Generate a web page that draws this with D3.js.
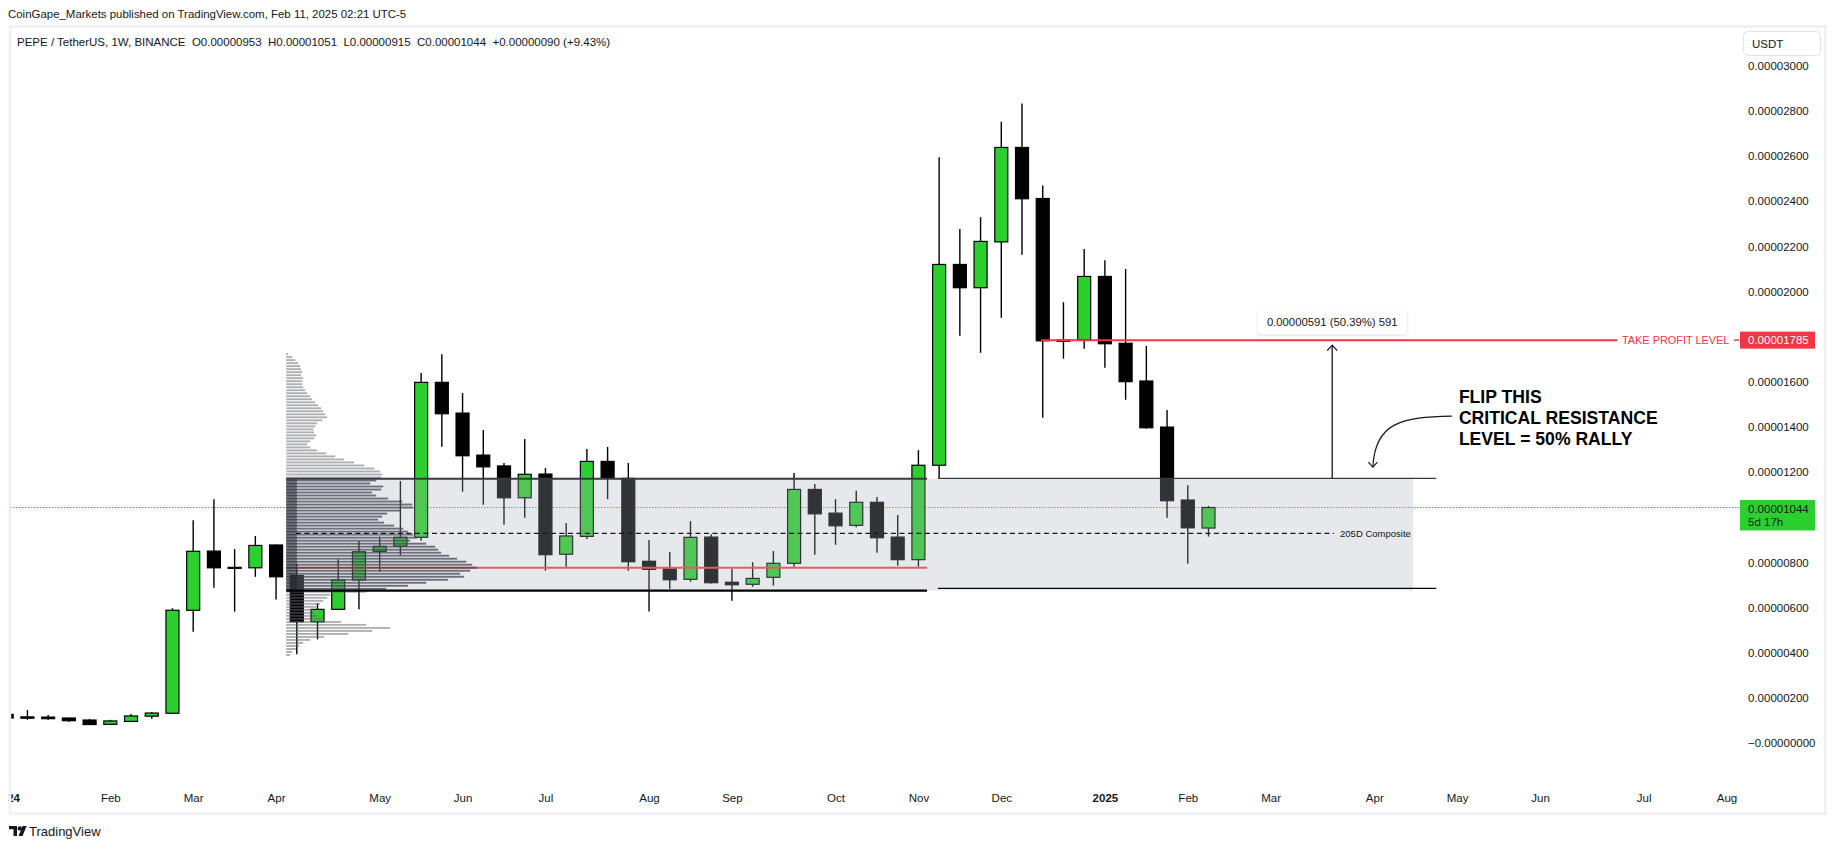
<!DOCTYPE html>
<html><head><meta charset="utf-8">
<script src="https://cdn.jsdelivr.net/npm/d3@7"></script>
<style>
html,body{margin:0;padding:0;background:#fff;}
svg{display:block;font-family:"Liberation Sans",Arial,sans-serif;}
</style></head><body>
<svg id="c" width="1835" height="849"></svg>
<script>
// ---------- DATA (prices in units of 1e-8 USDT) ----------
const weekStarts = ["2024-01-01","2024-01-08","2024-01-15","2024-01-22","2024-01-29","2024-02-05","2024-02-12","2024-02-19","2024-02-26",
"2024-03-04","2024-03-11","2024-03-18","2024-03-25","2024-04-01","2024-04-08","2024-04-15","2024-04-22","2024-04-29",
"2024-05-06","2024-05-13","2024-05-20","2024-05-27","2024-06-03","2024-06-10","2024-06-17","2024-06-24",
"2024-07-01","2024-07-08","2024-07-15","2024-07-22","2024-07-29","2024-08-05","2024-08-12","2024-08-19","2024-08-26",
"2024-09-02","2024-09-09","2024-09-16","2024-09-23","2024-09-30","2024-10-07","2024-10-14","2024-10-21","2024-10-28",
"2024-11-04","2024-11-11","2024-11-18","2024-11-25","2024-12-02","2024-12-09","2024-12-16","2024-12-23","2024-12-30",
"2025-01-06","2025-01-13","2025-01-20","2025-01-27","2025-02-03","2025-02-10"];
const opens  = [128,117,116,112,103, 84, 97,120,133, 589,851,779,777,878,743,538,593,723, 850,873,912,1598,1462,1276,1228,1087,
 1192,837,916,1248,1173,806,772,726,913, 713,704,735,797,1124,1019,965,1067,913, 813,1231,2120,2017,2220,2638,2412,1785,1787,
 2067,1771,1604,1400,1077,953];
const highs  = [132,147,125,113,108,104,130,139,598, 988,1081,860,918,880,795,620,815,896, 915,1161,1639,1723,1551,1387,1241,1347,
 1219,975,1303,1312,1241,900,847,984,926, 773,802,851,1197,1148,1081,1118,1090,1011, 1298,2595,2277,2330,2752,2833,2470,1953,2188,
 2139,2100,1759,1476,1143,1051];
const lows   = [104,104,104, 94, 82, 82, 96,109,130, 494,689,583,737,637,394,460,590,593, 760,834,897,1313,1114,1056,968,999,
 764,782,905,1081,764,583,684,715,707, 631,693,698,782,835,879,956,844,786, 782,1173,1804,1729,1884,2163,1441,1703,1747,
 1663,1521,1393,999,795,915];
const closes = [112,111,109,100, 83, 99,121,134,589, 850,777,777,876,737,538,593,723,848, 872,912,1598,1459,1273,1224,1087,1191,
 835,918,1248,1173,804,770,724,912,711, 702,730,797,1124,1016,963,1067,910,813, 1231,2120,2017,2222,2638,2411,1782,1780,2067,
 1769,1601,1397,1074,954,1044];

const priceTicks = [0,200,400,600,800,1000,1200,1400,1600,1800,2000,2200,2400,2600,2800,3000];
const monthTickDates  = ["2024-01-01","2024-02-05","2024-03-04","2024-04-01","2024-05-06","2024-06-03","2024-07-01","2024-08-05",
 "2024-09-02","2024-10-07","2024-11-04","2024-12-02","2025-01-06","2025-02-03","2025-03-03","2025-04-07","2025-05-05",
 "2025-06-02","2025-07-07","2025-08-04"];
const monthTickLabels = ["2024","Feb","Mar","Apr","May","Jun","Jul","Aug","Sep","Oct","Nov","Dec","2025","Feb","Mar","Apr","May","Jun","Jul","Aug"];

// volume profile (rows from top price to bottom price, arbitrary volume units)
const profileTop = 1723, profileBottom = 391;
const profileVolumes = [2,6,9,12,14,15,16,15,17,16,16,17,19,21,24,26,29,32,35,37,39,41,36,31,29,27,28,30,28,24,
 21,24,31,40,49,58,68,78,88,94,96,95,90,84,97,95,86,90,102,116,126,127,114,101,96,92,98,108,117,122,
 127,131,124,140,149,152,155,163,171,180,186,191,184,174,178,162,140,122,100,80,44,41,37,34,30,27,28,31,38,55,
 80,104,86,62,38,24,17,13,10,6,4];
const valueAreaHigh = 1171, valueAreaLow = 676, pocPrice = 777, compositeMid = 929;
const lastPrice = 1044, takeProfit = 1785, measuredMove = "0.00000591 (50.39%) 591";

// ---------- SCALES ----------
const svg = d3.select("#c");
const W = 1835, H = 849;
const parse = d => new Date(d + (d.length === 10 ? "T00:00:00Z" : "Z"));
const x = d3.scaleUtc().domain([parse("2024-01-01"), parse("2025-02-10")]).range([6.7, 1208.5]);
const y = d3.scaleLinear().domain([0, 3000]).range([743.3, 65.7]);
const plot = {l: 10, r: 1739, t: 27, b: 786};
const GREEN = "#2bd02f", INK = "#131722", RED = "#f23645";

const defs = svg.append("defs");
defs.append("clipPath").attr("id","plotclip").append("rect")
  .attr("x",plot.l).attr("y",plot.t).attr("width",plot.r-plot.l).attr("height",plot.b-plot.t);
const sh = defs.append("filter").attr("id","shadow").attr("x","-20%").attr("y","-40%").attr("width","140%").attr("height","180%");
sh.append("feDropShadow").attr("dx",0).attr("dy",1).attr("stdDeviation",1.5).attr("flood-color","#000").attr("flood-opacity",0.18);

svg.append("rect").attr("width",W).attr("height",H).attr("fill","#fff");

// header
svg.append("text").attr("x",8).attr("y",18).attr("font-size",11.45).attr("fill",INK)
  .text("CoinGape_Markets published on TradingView.com, Feb 11, 2025 02:21 UTC-5");
svg.append("text").attr("x",17).attr("y",46).attr("font-size",11.5).attr("fill",INK).attr("xml:space","preserve")
  .text("PEPE / TetherUS, 1W, BINANCE  O0.00000953  H0.00001051  L0.00000915  C0.00001044  +0.00000090 (+9.43%)");

const g = svg.append("g").attr("clip-path","url(#plotclip)");

// last price dotted line
const lpY = Math.floor(y(lastPrice)) + 0.5;
g.append("line").attr("x1",plot.l).attr("x2",plot.r).attr("y1",lpY).attr("y2",lpY)
  .attr("stroke","#22cc2e").attr("stroke-width",1.2).attr("stroke-dasharray","1.5,1.5");

// candles
const candles = weekStarts.map((d,i)=>({date:parse(d),o:opens[i],h:highs[i],l:lows[i],c:closes[i]}));
const bw = 14;
const cg = g.append("g");
cg.selectAll("line.wick").data(candles).join("line").attr("class","wick")
  .attr("x1",d=>x(d.date)).attr("x2",d=>x(d.date)).attr("y1",d=>y(d.h)).attr("y2",d=>y(d.l))
  .attr("stroke","#000").attr("stroke-width",1.4);
cg.selectAll("rect.body").data(candles).join("rect").attr("class","body")
  .attr("x",d=>x(d.date)-bw/2+0.5).attr("width",bw-1)
  .attr("y",d=>Math.min(y(d.o),y(d.c)))
  .attr("height",d=>Math.max(1,Math.abs(y(d.o)-y(d.c))))
  .attr("fill",d=>d.c>=d.o?GREEN:"#000").attr("stroke","#000").attr("stroke-width",1.2);

// range box (semi-transparent over candles)
const boxStart = parse("2024-04-04T10:00:00"), boxEnd = parse("2025-04-20T02:00:00");
g.append("rect").attr("x",x(boxStart)).attr("width",x(boxEnd)-x(boxStart))
  .attr("y",y(valueAreaHigh)).attr("height",y(valueAreaLow)-y(valueAreaHigh))
  .attr("fill","rgb(173,176,187)").attr("fill-opacity",0.29);

// POC red line
const leftEnd = parse("2024-11-06T22:00:00");
g.append("line").attr("x1",x(boxStart)).attr("x2",x(leftEnd)).attr("y1",y(pocPrice)).attr("y2",y(pocPrice))
  .attr("stroke","#df5f5a").attr("stroke-width",2);

// volume profile
const nRows = profileVolumes.length;
const rowStep = (profileTop-profileBottom)/(nRows-1);
const wScale = d3.scaleLinear().domain([0, d3.max(profileVolumes)]).range([0, 191]);
const prof = profileVolumes.map((v,i)=>({p: profileTop - i*rowStep, v}));
const inVA = d => d.p<=valueAreaHigh && d.p>=valueAreaLow;
g.append("g").selectAll("rect").data(prof).join("rect")
  .attr("x",x(boxStart)).attr("y",d=>y(d.p)-0.95).attr("height",1.9)
  .attr("width",d=>wScale(d.v))
  .attr("fill",d=>inVA(d)?"rgb(62,65,78)":"rgb(100,102,110)")
  .attr("fill-opacity",d=>inVA(d)?0.72:0.52);
g.append("rect").attr("x",x(boxStart)).attr("width",10.7)
  .attr("y",y(valueAreaHigh)).attr("height",y(valueAreaLow)-y(valueAreaHigh))
  .attr("fill","rgb(30,33,44)").attr("fill-opacity",0.5);

// composite mid dashed line
const dashStart = parse("2024-04-07T17:00:00"), dashEnd = parse("2025-03-24T10:00:00");
g.append("line").attr("x1",x(dashStart)).attr("x2",x(dashEnd)).attr("y1",y(compositeMid)).attr("y2",y(compositeMid))
  .attr("stroke",INK).attr("stroke-width",1.3).attr("stroke-dasharray","5,3.5");
g.append("text").attr("x",x(dashEnd)+6).attr("y",y(compositeMid)).attr("dy","0.35em")
  .attr("font-size",9.5).attr("fill",INK).text("205D Composite");

// range lines, left set
g.append("line").attr("x1",x(boxStart)).attr("x2",x(leftEnd)).attr("y1",y(valueAreaHigh)).attr("y2",y(valueAreaHigh))
  .attr("stroke","#363a45").attr("stroke-width",2);
g.append("line").attr("x1",x(boxStart)).attr("x2",x(leftEnd)).attr("y1",y(valueAreaLow)).attr("y2",y(valueAreaLow))
  .attr("stroke","#000").attr("stroke-width",2.2);
// range lines, right set
const rightStart = parse("2024-11-10T14:00:00"), rightEnd = parse("2025-04-27T22:00:00");
const rightTop = 1173, rightBottom = 686;
g.append("line").attr("x1",x(rightStart)).attr("x2",x(rightEnd)).attr("y1",y(rightTop)).attr("y2",y(rightTop))
  .attr("stroke","#363a45").attr("stroke-width",1.3);
g.append("line").attr("x1",x(rightStart)).attr("x2",x(rightEnd)).attr("y1",y(rightBottom)).attr("y2",y(rightBottom))
  .attr("stroke","#000").attr("stroke-width",1.3);

// take profit line
const tpStart = parse("2024-12-15T10:00:00"), tpEnd = parse("2025-06-28T00:00:00");
g.append("line").attr("x1",x(tpStart)).attr("x2",x(tpEnd)).attr("y1",y(takeProfit)).attr("y2",y(takeProfit))
  .attr("stroke",RED).attr("stroke-width",2);
g.append("text").attr("x",x(tpEnd)+5).attr("y",y(takeProfit)).attr("dy","0.36em").attr("font-size",10.9)
  .attr("fill",RED).text("TAKE PROFIT LEVEL");
g.append("line").attr("x1",1734).attr("x2",plot.r+2).attr("y1",y(takeProfit)).attr("y2",y(takeProfit))
  .attr("stroke",RED).attr("stroke-width",1.5);

// measure arrow
const mDate = parse("2025-03-23T19:00:00");
const mx = x(mDate), tipY = y(takeProfit)+5;
g.append("line").attr("x1",mx).attr("x2",mx).attr("y1",y(rightTop)).attr("y2",tipY)
  .attr("stroke",INK).attr("stroke-width",1.3);
g.append("path").attr("d",`M${mx-5},${tipY+5.5}L${mx},${tipY}L${mx+5},${tipY+5.5}`)
  .attr("fill","none").attr("stroke",INK).attr("stroke-width",1.3);
const lb = g.append("g").attr("transform",`translate(${mx},${y(takeProfit)-18})`);
lb.append("rect").attr("x",-74.5).attr("y",-12).attr("width",149).attr("height",24).attr("rx",4)
  .attr("fill","#fff").attr("filter","url(#shadow)");
lb.append("text").attr("text-anchor","middle").attr("dy","0.35em").attr("font-size",11.3).attr("fill",INK).text(measuredMove);

// callout text + curved arrow
const tDate = parse("2025-05-05T14:00:00"), tPrice = 1506;
const tx = x(tDate), ty = y(tPrice);
const callout = ["FLIP THIS","CRITICAL RESISTANCE","LEVEL = 50% RALLY"];
g.append("g").selectAll("text").data(callout).join("text")
  .attr("x",tx).attr("y",(d,i)=>ty+i*20.7).attr("font-size",17.6).attr("font-weight","bold")
  .attr("fill","#000").text(d=>d);
const ax0 = tx-7, ay0 = ty+13, ax1 = tx-86, ay1 = ty+64;
g.append("path").attr("d",`M${ax0},${ay0}C${ax0-50},${ay0+1} ${ax1+2},${ay0+6} ${ax1},${ay1}`)
  .attr("fill","none").attr("stroke",INK).attr("stroke-width",1.2);
g.append("path").attr("d",`M${ax1-4.5},${ay1-5}L${ax1},${ay1}L${ax1+4.5},${ay1-5}`)
  .attr("fill","none").attr("stroke",INK).attr("stroke-width",1.2);

// ---------- price axis ----------
const fmt = v => v===0 ? "\u22120.00000000" : (v*1e-8).toFixed(8);
const hiddenTicks = [1000, 1800];
const yAxis = d3.axisRight(y).tickValues(priceTicks.filter(t=>!hiddenTicks.includes(t))).tickSize(0).tickPadding(0).tickFormat(fmt);
const ya = svg.append("g").attr("transform","translate(1748,0)").call(yAxis);
ya.select(".domain").remove();
ya.selectAll("text").attr("font-size",11.5).attr("fill",INK).attr("font-family","Liberation Sans, Arial, sans-serif");

// price labels
svg.append("rect").attr("x",1740).attr("y",y(takeProfit)-8.5).attr("width",75).attr("height",17).attr("fill",RED);
svg.append("text").attr("x",1748).attr("y",y(takeProfit)).attr("dy","0.36em").attr("font-size",11.5).attr("fill","#fff").text(fmt(takeProfit));
svg.append("rect").attr("x",1740).attr("y",y(lastPrice)-7.5).attr("width",75).attr("height",30.5).attr("fill",GREEN);
svg.append("text").attr("x",1748).attr("y",y(lastPrice)+1).attr("dy","0.36em").attr("font-size",11.5).attr("fill",INK).text(fmt(lastPrice));
svg.append("text").attr("x",1748).attr("y",y(lastPrice)+14.5).attr("dy","0.36em").attr("font-size",11.5).attr("fill",INK).text("5d 17h");

// USDT box
svg.append("rect").attr("x",1743.5).attr("y",31.5).attr("width",77).attr("height",24).attr("rx",4)
  .attr("fill","#fff").attr("stroke","#e0e3eb");
svg.append("text").attr("x",1752).attr("y",44).attr("dy","0.35em").attr("font-size",11.5).attr("fill",INK).text("USDT");

// ---------- time axis ----------
const xAxis = d3.axisBottom(x).tickValues(monthTickDates.map(parse)).tickSize(0).tickPadding(0)
  .tickFormat((d,i)=>monthTickLabels[i]);
const xa = svg.append("g").attr("transform","translate(0,794)").call(xAxis);
xa.select(".domain").remove();
xa.selectAll("text").attr("font-size",11.5).attr("fill",INK).attr("font-family","Liberation Sans, Arial, sans-serif")
  .attr("font-weight",(d,i)=>/^\d{4}$/.test(monthTickLabels[i])?"bold":"normal");

// frame
svg.append("rect").attr("x",10).attr("y",26.5).attr("width",1815).attr("height",787)
  .attr("fill","none").attr("stroke","#eef0f4").attr("stroke-width",2.5);
// the first year label sits at the left edge and is cut by it, as in the reference
svg.append("rect").attr("x",0).attr("y",780).attr("width",8.7).attr("height",30).attr("fill","#fff");

// TradingView logo
const logo = svg.append("g").attr("transform","translate(9,826)").attr("fill",INK);
logo.append("path").attr("d","M0,0H8V10H4.5V3.2H0Z");
logo.append("circle").attr("cx",10.8).attr("cy",2.4).attr("r",2.2);
logo.append("path").attr("d","M9.5,10L13.6,0H17.6L13.5,10Z");
svg.append("text").attr("x",29).attr("y",836).attr("font-size",13).attr("fill",INK).text("TradingView");
</script>
</body></html>
